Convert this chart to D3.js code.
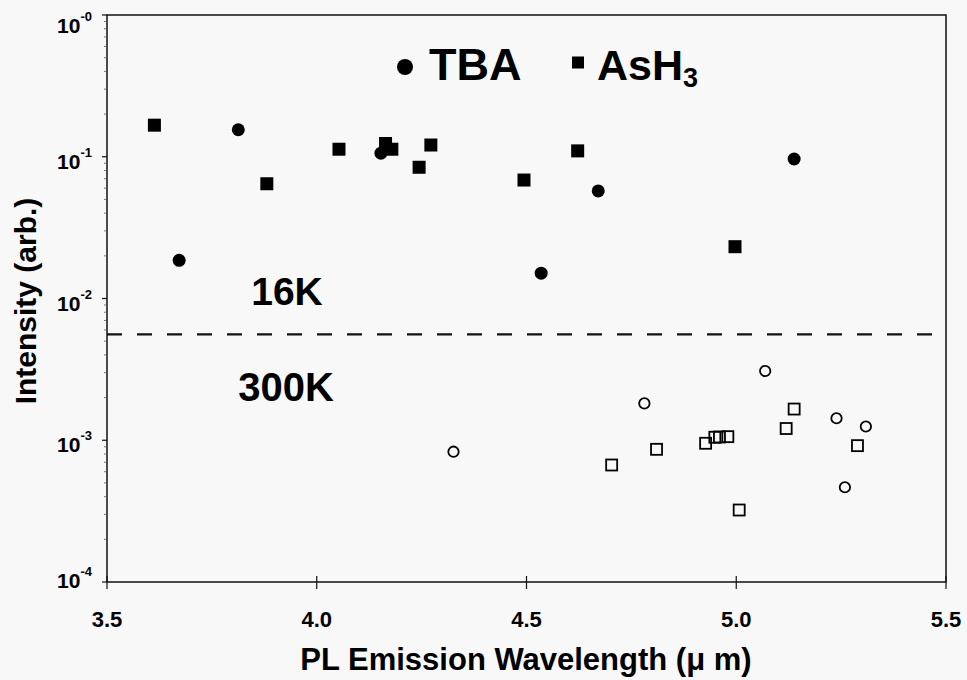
<!DOCTYPE html>
<html>
<head>
<meta charset="utf-8">
<script src="https://cdn.jsdelivr.net/npm/d3@7"></script>
<style>
  body { margin: 0; background: #f8f8f8; }
  svg { display: block; font-family: 'Liberation Sans', Arial, sans-serif; font-weight: bold; }
</style>
</head>
<body>
<div id="chart"></div>
<script>
// 16K TBA (filled circles)
let tba16_x = [3.672, 3.813, 4.153, 4.535, 4.671, 5.138]
let tba16_y = [0.0186, 0.155, 0.106, 0.0151, 0.0574, 0.0964]
// 16K AsH3 (filled squares)
let ash16_x = [3.613, 3.881, 4.053, 4.164, 4.179, 4.244, 4.272, 4.494, 4.622, 4.997]
let ash16_y = [0.167, 0.0645, 0.113, 0.124, 0.113, 0.0843, 0.121, 0.0685, 0.110, 0.0232]
// 300K TBA (open circles)
let tba300_x = [4.326, 4.781, 5.069, 5.239, 5.259, 5.309]
let tba300_y = [0.00083, 0.00182, 0.00308, 0.00143, 0.000466, 0.00125]
// 300K AsH3 (open squares)
let ash300_x = [4.703, 4.810, 4.927, 4.949, 4.960, 4.980, 5.007, 5.119, 5.138, 5.289]
let ash300_y = [0.000669, 0.000863, 0.000952, 0.00105, 0.001054, 0.00106, 0.000322, 0.00121, 0.00166, 0.000916]

let x_ticks = [3.5, 4.0, 4.5, 5.0, 5.5]
let y_ticks = [1, 0.1, 0.01, 0.001, 0.0001]
let y_tick_exp = ['-0', '-1', '-2', '-3', '-4']
let divider_level = 0.00559

let width = 967
let height = 680

let svg = d3.select('#chart')
            .append('svg')
            .attr('width', width)
            .attr('height', height)

let x = d3.scaleLinear().domain([3.5, 5.5]).range([107, 946])
let y = d3.scaleLog().domain([1e-4, 1]).range([582, 15])

//frame
svg.append('rect')
    .attr('x', x(3.5))
    .attr('y', y(1))
    .attr('width', x(5.5) - x(3.5))
    .attr('height', y(1e-4) - y(1))
    .attr('fill', 'none')
    .attr('stroke', '#111')
    .attr('stroke-width', 1.5)

//x ticks crossing the axis
svg.append('g')
    .selectAll('line')
    .data(x_ticks)
    .enter()
    .append('line')
    .attr('x1', d => x(d))
    .attr('x2', d => x(d))
    .attr('y1', y(1e-4) - 6)
    .attr('y2', y(1e-4) + 7)
    .attr('stroke', '#111')
    .attr('stroke-width', 1.2)

svg.append('g')
    .selectAll('text')
    .data(x_ticks)
    .enter()
    .append('text')
    .attr('x', d => x(d))
    .attr('y', 627)
    .attr('text-anchor', 'middle')
    .style('font-size', '22px')
    .text(d => d3.format('.1f')(d))

//y ticks (decades + minor)
let minor = []
for (let e = -4; e < 0; e++) {
  for (let m = 2; m < 10; m++) minor.push(m * Math.pow(10, e))
}
svg.append('g')
    .selectAll('line')
    .data(minor)
    .enter()
    .append('line')
    .attr('x1', x(3.5) - 3)
    .attr('x2', x(3.5))
    .attr('y1', d => y(d))
    .attr('y2', d => y(d))
    .attr('stroke', '#555')
    .attr('stroke-width', 0.8)

svg.append('g')
    .selectAll('line')
    .data(y_ticks)
    .enter()
    .append('line')
    .attr('x1', x(3.5) - 5)
    .attr('x2', x(3.5))
    .attr('y1', d => y(d))
    .attr('y2', d => y(d))
    .attr('stroke', '#111')
    .attr('stroke-width', 1.2)

let ylab = svg.append('g')
              .selectAll('text')
              .data(y_ticks)
              .enter()
              .append('text')
              .attr('x', 92)
              .attr('y', d => Math.min(588, Math.max(33, y(d) + 12)))
              .attr('text-anchor', 'end')
              .style('font-size', '21px')
ylab.append('tspan').text('10')
ylab.append('tspan')
    .attr('dy', -12)
    .style('font-size', '13px')
    .text((d, i) => y_tick_exp[i])

//axis titles
svg.append('text')
    .attr('x', 526)
    .attr('y', 670)
    .attr('text-anchor', 'middle')
    .style('font-size', '31px')
    .text('PL Emission Wavelength (\u03bc m)')

svg.append('text')
    .attr('transform', 'translate(36,' + 301 + ') rotate(-90)')
    .attr('text-anchor', 'middle')
    .style('font-size', '30px')
    .text('Intensity (arb.)')

//divider between 16K and 300K
svg.append('line')
    .attr('x1', x(3.5))
    .attr('x2', x(5.5))
    .attr('y1', y(divider_level))
    .attr('y2', y(divider_level))
    .attr('stroke', '#111')
    .attr('stroke-width', 2.2)
    .attr('stroke-dasharray', '15,15')

svg.append('text')
    .attr('x', 287)
    .attr('y', 305)
    .attr('text-anchor', 'middle')
    .style('font-size', '39px')
    .text('16K')

svg.append('text')
    .attr('x', 286)
    .attr('y', 401)
    .attr('text-anchor', 'middle')
    .style('font-size', '40px')
    .text('300K')

//points
function circles(xs, ys, filled, r) {
  svg.append('g')
      .selectAll('circle')
      .data(xs.map((v, i) => [v, ys[i]]))
      .enter()
      .append('circle')
      .attr('cx', d => x(d[0]))
      .attr('cy', d => y(d[1]))
      .attr('r', r)
      .attr('fill', filled ? '#000' : 'none')
      .attr('stroke', '#000')
      .attr('stroke-width', filled ? 0 : 1.8)
}
function squares(xs, ys, filled, s) {
  svg.append('g')
      .selectAll('rect')
      .data(xs.map((v, i) => [v, ys[i]]))
      .enter()
      .append('rect')
      .attr('x', d => x(d[0]) - s / 2)
      .attr('y', d => y(d[1]) - s / 2)
      .attr('width', s)
      .attr('height', s)
      .attr('fill', filled ? '#000' : 'none')
      .attr('stroke', '#000')
      .attr('stroke-width', filled ? 0 : 1.8)
}
circles(tba16_x, tba16_y, true, 6.5)
squares(ash16_x, ash16_y, true, 13)
circles(tba300_x, tba300_y, false, 5.2)
squares(ash300_x, ash300_y, false, 11)

//legend
svg.append('circle')
    .attr('cx', 405)
    .attr('cy', 67)
    .attr('r', 8)
    .attr('fill', '#000')
svg.append('text')
    .attr('x', 429)
    .attr('y', 80)
    .style('font-size', '45px')
    .text('TBA')
svg.append('rect')
    .attr('x', 572)
    .attr('y', 56.5)
    .attr('width', 12)
    .attr('height', 12)
    .attr('fill', '#000')
let ash = svg.append('text')
             .attr('x', 597)
             .attr('y', 80)
             .style('font-size', '43px')
ash.append('tspan').text('AsH')
ash.append('tspan')
    .attr('dy', 7)
    .style('font-size', '27px')
    .text('3')
</script>
</body>
</html>
